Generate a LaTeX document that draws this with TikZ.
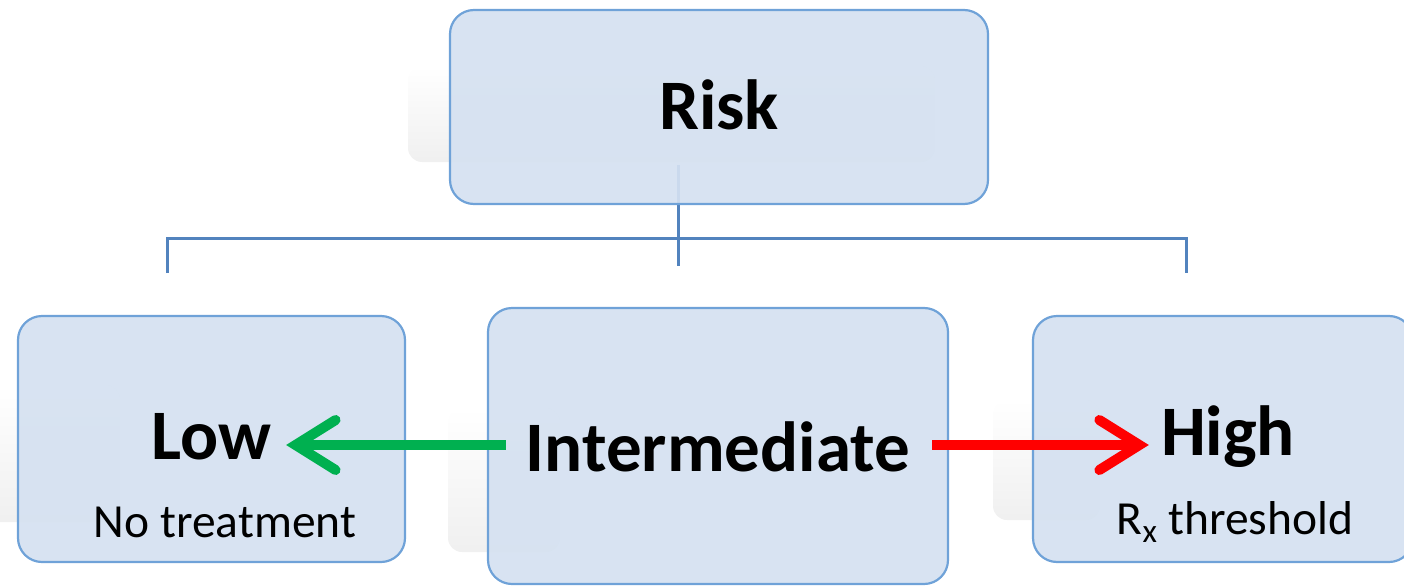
\documentclass[tikz,border=0pt]{standalone}
\usepackage{fontspec}
\setmainfont{Carlito}
\usetikzlibrary{arrows.meta}
\definecolor{boxfill}{HTML}{D5E1F1}
\definecolor{boxline}{HTML}{6FA2D8}
\definecolor{conn}{HTML}{5283BE}
\definecolor{arrgreen}{HTML}{00B050}
\definecolor{arrred}{HTML}{FF0000}
\tikzset{
  box/.style={draw=boxline, line width=2.2pt, fill=boxfill, fill opacity=0.92, rounded corners=24pt, inner sep=0pt},
  ghost/.style={top color=white, bottom color=gray!12, rounded corners=14pt},
  conn/.style={draw=conn, line width=3pt},
  bigtxt/.style={font=\fontsize{71}{75}\selectfont\bfseries, inner sep=0pt, text=black},
  smalltxt/.style={font=\fontsize{47.5}{50}\selectfont, inner sep=0pt, text=black},
  garrow/.style={draw=arrgreen, line width=10pt, -{Straight Barb[length=40pt,width=50pt,line cap=round]}},
  rarrow/.style={draw=arrred, line width=10pt, -{Straight Barb[length=40pt,width=50pt,line cap=round]}}
}
\begin{document}
\begin{tikzpicture}[x=1pt,y=-1pt]
\useasboundingbox (0,0) rectangle (1404,586);
\clip (0,0) rectangle (1404,586);
% faint reflections
\shade[ghost] (408,66) rectangle (935,162);
\shade[ghost] (-20,385) rectangle (120,522);
\shade[ghost] (448,408) rectangle (560,552);
\shade[ghost] (993,400) rectangle (1100,520);
% tree connectors
\coordinate (top) at (678,165);
\coordinate (hub) at (678,238);
\coordinate (lowtop) at (167,273);
\coordinate (midtop) at (678,266);
\coordinate (hightop) at (1186,273);
\draw[conn] (top) -- (hub);
\draw[conn] (lowtop) |- (hub) -| (hightop);
\draw[conn] (hub) -- (midtop);
% boxes
\node[box, minimum width=538pt, minimum height=194pt] (riskbox) at (719,107) {};
\node[box, minimum width=387pt, minimum height=246pt] (lowbox) at (211.5,439) {};
\node[box, minimum width=460pt, minimum height=276pt] (intbox) at (718,446) {};
\node[box, minimum width=380pt, minimum height=246pt] (highbox) at (1223,439) {};
% labels
\node[bigtxt] (risk) at (719,105) {Risk};
\node[bigtxt] (low) at (211,437) {Low};
\node[bigtxt] (int) at (718,447) {Intermediate};
\node[bigtxt] (high) at (1228,437) {High};
\node[smalltxt] (notreat) at (225,522) {No treatment};
\node[smalltxt] (rx) at (1235,522) {R\textsubscript{x} threshold};
% arrows
\draw[garrow, shorten <=20pt, shorten >=15pt] (int.west |- 0,445) -- (low.east |- 0,445);
\draw[rarrow, shorten <=22pt, shorten >=12pt] (int.east |- 0,445) -- (high.west |- 0,445);
\end{tikzpicture}
\end{document}
